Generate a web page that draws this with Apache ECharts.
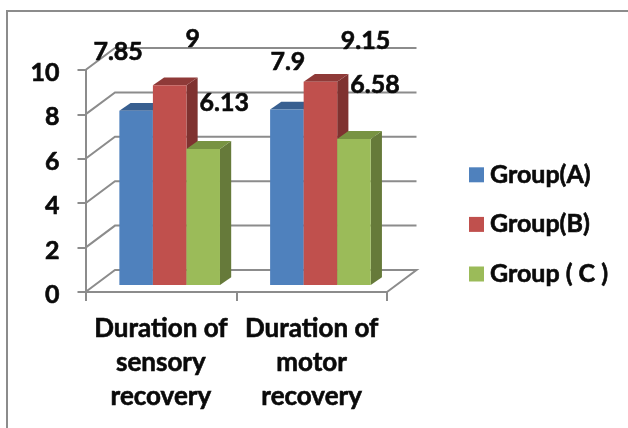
<!DOCTYPE html>
<html>
<head>
<meta charset="utf-8">
<style>html,body{margin:0;padding:0;background:#fff}#chart{width:628px;height:428px}</style>
<script src="https://cdn.jsdelivr.net/npm/echarts@6/dist/echarts.min.js"></script>
</head>
<body>
<div id="chart"></div>
<script>
// Recovery durations per group
const categories = ['Duration of\nsensory\nrecovery', 'Duration of\nmotor\nrecovery'];
const groupNames = ['Group(A)', 'Group(B)', 'Group ( C )'];
const groupA = [7.85, 7.9];
const groupB = [9, 9.15];
const groupC = [6.13, 6.58];
const yTicks = [0, 2, 4, 6, 8, 10];

// Pixel offsets of the hand-placed value labels, per group and category
const labelShift = [
  [[-18, -59], [1, -48]],
  [[23, -46], [45, -41]],
  [[21, -46], [21, -54]]
];

const FONT = 'Lato, "Open Sans", sans-serif';
const WEIGHT = 'bold';
const INK = '#0a0a0a';
const RULE = '#8c8c8c';
const HEFT = { textBorderColor: INK, textBorderWidth: 0.6 }; // thickens the bold face slightly
const WALL_DX = 29.5, WALL_DY = -22;   // back wall relative to the front plane
const BAR_DX = 8.8, BAR_DY = -7;       // bar front relative to the front plane
const SIDE_DX = 11.2, SIDE_DY = -7.8;  // extrusion of each bar
const BAR_SHARE = 0.2225;              // bar width as a share of a category

const palette = [
  { front: '#4F81BD', top: '#385F90', side: '#3A6090' },
  { front: '#C0504D', top: '#8F3A38', side: '#7F3230' },
  { front: '#9BBB59', top: '#789342', side: '#667A3A' }
];

// Perspective gridlines: depth stroke on the left, then along the back wall
function renderWall(params, api) {
  const v = api.value(1);
  const cs = params.coordSys;
  const y = api.coord([0, v])[1];
  const left = cs.x, right = cs.x + cs.width;
  const pts = [[left, y], [left + WALL_DX, y + WALL_DY], [right + WALL_DX, y + WALL_DY]];
  if (v === 0) pts.push([right, y]);
  return {
    type: 'polyline',
    shape: { points: pts },
    style: { stroke: RULE, lineWidth: 2, fill: null }
  };
}

function barRenderer(groupIndex) {
  const colors = palette[groupIndex];
  return function (params, api) {
    const cat = api.value(0);
    const val = api.value(1);
    const top = api.coord([cat, val]);
    const base = api.coord([cat, 0]);
    const w = api.size([1, 0])[0] * BAR_SHARE;
    const x0 = top[0] + BAR_DX + (groupIndex - 1.5) * w;
    const x1 = x0 + w;
    const yT = top[1] + BAR_DY;
    const yB = base[1] + BAR_DY;
    const shift = labelShift[groupIndex][cat];
    return {
      type: 'group',
      children: [
        { type: 'polygon', shape: { points: [[x1, yT], [x1 + SIDE_DX, yT + SIDE_DY], [x1 + SIDE_DX, yB + SIDE_DY], [x1, yB]] },
          style: { fill: colors.side } },
        { type: 'polygon', shape: { points: [[x0, yT], [x0 + SIDE_DX, yT + SIDE_DY], [x1 + SIDE_DX, yT + SIDE_DY], [x1, yT]] },
          style: { fill: colors.top } },
        { type: 'rect', shape: { x: x0, y: yT, width: w, height: yB - yT },
          style: { fill: colors.front } },
        { type: 'text', z2: 50,
          style: { text: String(val), x: x0 + w / 2 + shift[0], y: yT + shift[1],
            align: 'center', verticalAlign: 'middle', fill: INK,
            stroke: INK, lineWidth: 0.6,
            font: WEIGHT + ' 25px ' + FONT } }
      ]
    };
  };
}

const groupValues = [groupA, groupB, groupC];

const option = {
  animation: false,
  backgroundColor: '#fff',
  grid: { left: 85.5, right: 241, top: 70, bottom: 136, containLabel: false },
  legend: {
    data: groupNames,
    orient: 'vertical',
    left: 469,
    top: 162,
    padding: 0,
    itemWidth: 15,
    itemHeight: 15,
    itemGap: 24,
    icon: 'rect',
    textStyle: Object.assign({ fontFamily: FONT, fontWeight: WEIGHT, fontSize: 25, color: INK, padding: [0, 0, 0, 1] }, HEFT)
  },
  xAxis: {
    type: 'category',
    data: categories,
    axisLine: { lineStyle: { color: RULE, width: 2 } },
    axisTick: { show: true, length: 9, lineStyle: { color: RULE, width: 2 } },
    axisLabel: Object.assign({ interval: 0, margin: 20, lineHeight: 34, fontFamily: FONT, fontWeight: WEIGHT, fontSize: 26, color: INK }, HEFT),
    splitLine: { show: false }
  },
  yAxis: {
    type: 'value',
    min: 0,
    max: 10,
    interval: 2,
    axisLine: { show: true, lineStyle: { color: RULE, width: 2 } },
    axisTick: { show: true, length: 8, lineStyle: { color: RULE, width: 2 } },
    axisLabel: Object.assign({ margin: 26, verticalAlign: 'top', lineHeight: 6, fontFamily: FONT, fontWeight: WEIGHT, fontSize: 25, color: INK }, HEFT),
    splitLine: { show: false }
  },
  graphic: [
    { type: 'polyline', silent: true,
      shape: { points: [[7, 428], [7, 11], [628, 11]] },
      style: { stroke: RULE, lineWidth: 2, fill: null } }
  ],
  series: [
    { name: 'wall', type: 'custom', silent: true, clip: false, z: 1,
      renderItem: renderWall, encode: { x: 0, y: 1 },
      data: yTicks.map(v => [0, v]) }
  ].concat(groupNames.map((name, i) => ({
    name,
    type: 'custom',
    clip: false,
    z: 2 + i,
    itemStyle: { color: palette[i].front },
    renderItem: barRenderer(i),
    encode: { x: 0, y: 1 },
    data: groupValues[i].map((v, c) => [c, v])
  })))
};

echarts.init(document.getElementById('chart'), null, { renderer: 'canvas' }).setOption(option);
</script>
</body>
</html>
